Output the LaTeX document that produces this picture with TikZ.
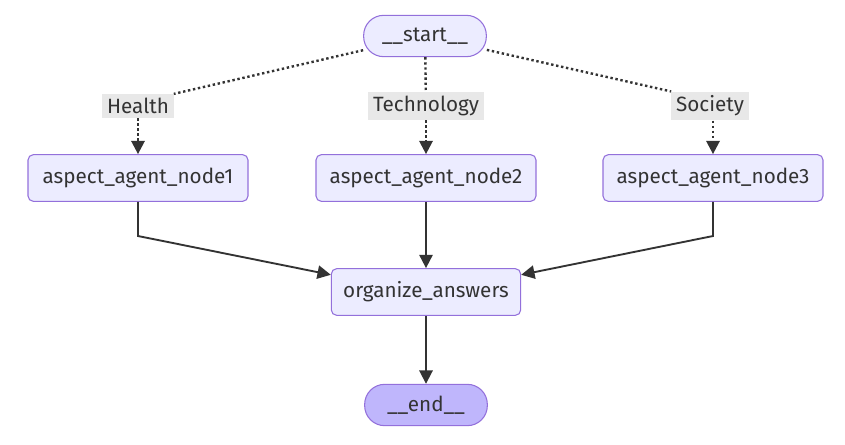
\documentclass[tikz,border=0pt]{standalone}
\usepackage{fontspec}
\setmainfont{Fira Sans}
\usetikzlibrary{arrows.meta}

\definecolor{nodefill}{HTML}{ECECFF}
\definecolor{nodeline}{HTML}{9370DB}
\definecolor{endfill}{HTML}{BFB6FC}
\definecolor{labelfill}{HTML}{E8E8E8}
\definecolor{ink}{HTML}{333333}

\tikzset{
  agent/.style={draw=nodeline,fill=nodefill,rounded corners=4pt,line width=0.8pt,
    minimum width=165pt,minimum height=35pt,text=ink,font=\fontsize{15.5}{18}\selectfont},
  terminal/.style={agent,rounded corners=15pt,minimum width=92pt,minimum height=31pt},
  edgelabel/.style={fill=labelfill,inner xsep=3.5pt,inner ysep=3pt,text=ink,font=\fontsize{15.5}{18}\selectfont},
  flow/.style={draw=ink,line width=1.4pt,-{Triangle[length=10pt,width=10pt]}},
  cond/.style={draw=ink,line width=1.8pt,dash pattern=on 1.8pt off 2pt},
}

\begin{document}
\begin{tikzpicture}[x=0.75pt,y=-0.75pt]
  \useasboundingbox (0,0) rectangle (845,445);

  \node[terminal] (start) at (425,36) {\_\_start\_\_};
  \node[agent] (agent1) at (138,178) {aspect\_agent\_node1};
  \node[agent] (agent2) at (426,178) {aspect\_agent\_node2};
  \node[agent] (agent3) at (713,178) {aspect\_agent\_node3};
  \node[agent,minimum width=142pt] (organize) at (426,292) {organize\_answers};
  \node[terminal,fill=endfill] (end) at (426,405) {\_\_end\_\_};

  % conditional branches
  \node[edgelabel] (health) at (138,106) {Health};
  \node[edgelabel] (tech) at (426,106) {Technology};
  \node[edgelabel] (society) at (710,106) {Society};

  \draw[cond] (start) -- (health.north east);
  \draw[cond] (start) -- (tech);
  \draw[cond] (start) -- (society.north west);
  \draw[cond,-{Triangle[length=10pt,width=10pt]}] (health) -- (agent1);
  \draw[cond,-{Triangle[length=10pt,width=10pt]}] (tech) -- (agent2);
  \draw[cond,-{Triangle[length=10pt,width=10pt]}] (society.south -| agent3) -- (agent3);

  \coordinate (bend1) at (138,236);
  \coordinate (bend3) at (713,236);
  \draw[flow] (agent1) -- (bend1) -- ([yshift=-5pt]organize.north west);
  \draw[flow] (agent2) -- (organize);
  \draw[flow] (agent3) -- (bend3) -- ([yshift=-5pt]organize.north east);
  \draw[flow] (organize) -- (end);
\end{tikzpicture}
\end{document}
